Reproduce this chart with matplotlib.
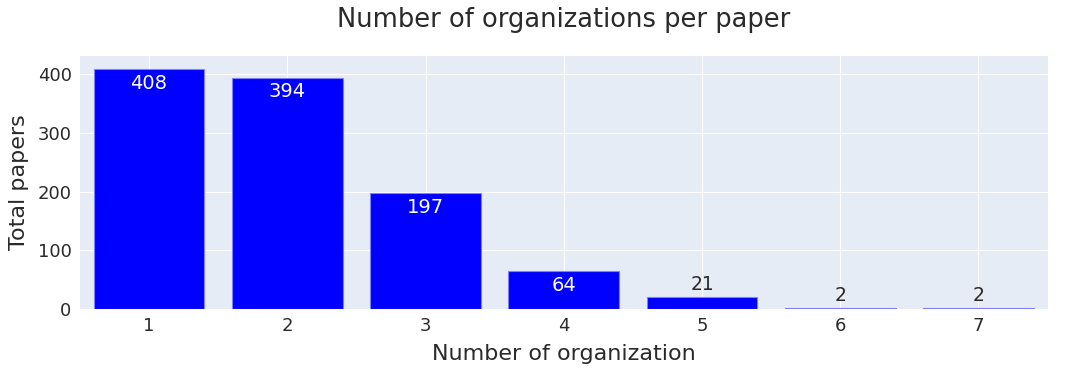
import matplotlib as mpl
mpl.use('Agg')
mpl.rcParams['font.family'] = ['DejaVu Sans']
import matplotlib.pyplot as plt

# data
orgs = [1, 2, 3, 4, 5, 6, 7]
papers = [408, 394, 197, 64, 21, 2, 2]

text_color = '#2a2a2a'
bg = '#e5ecf6'

fig = plt.figure(figsize=(10.8, 3.78), dpi=100)
ax = fig.add_axes([0.074, 0.1825, 0.896, 0.6695])
ax.set_facecolor(bg)

bars = ax.bar(orgs, papers, width=0.8, color='#0000ff',
              edgecolor='#8080ff', linewidth=0.8, zorder=3)

ax.set_xlim(0.5, 7.5)
ax.set_ylim(0, 431)
ax.set_yticks([0, 100, 200, 300, 400])
ax.set_xticks(orgs)
ax.grid(True, color='white', linewidth=0.8, zorder=0)
for s in ax.spines.values():
    s.set_visible(False)
ax.tick_params(length=0, labelsize=13, colors=text_color, pad=6)

# value labels: inside if bar tall enough, else above
for x, v in zip(orgs, papers):
    if v > 40:
        ax.text(x, v - 8, str(v), ha='center', va='top', color='white',
                fontsize=14, zorder=4)
    else:
        ax.text(x, v + 5, str(v), ha='center', va='bottom', color=text_color,
                fontsize=13.5, zorder=4)

ax.set_xlabel('Number of organization', fontsize=16, color=text_color, labelpad=6)
ax.set_ylabel('Total papers', fontsize=16, color=text_color, labelpad=6)
fig.text(0.522, 0.948, 'Number of organizations per paper', ha='center', va='center',
         fontsize=18.5, color=text_color)

plt.savefig('out.png', dpi=100)
